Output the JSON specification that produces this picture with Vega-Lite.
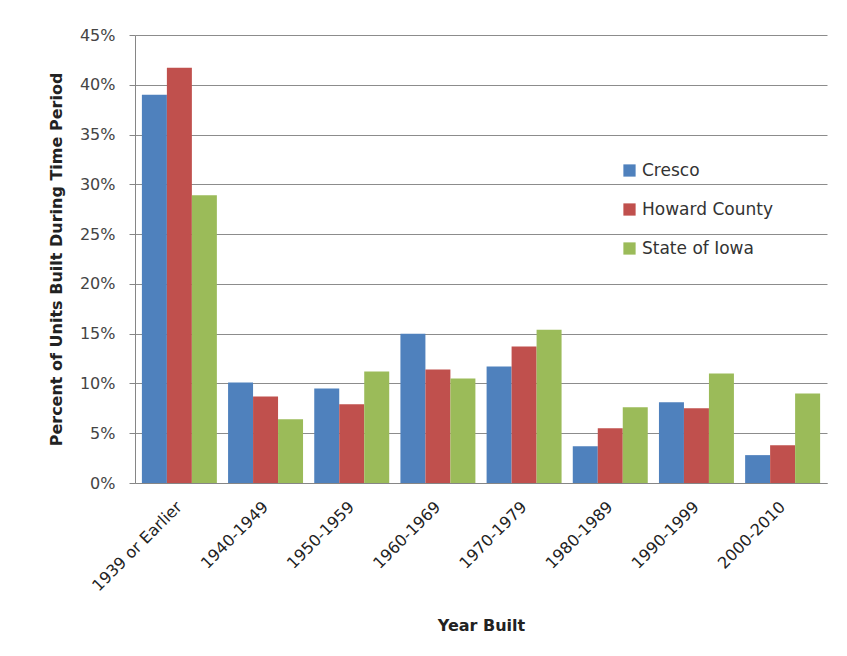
{
  "$schema": "https://vega.github.io/schema/vega-lite/v6.json",
  "autosize": "none",
  "width": 692,
  "height": 448,
  "padding": {"left": 135, "top": 35, "right": 20, "bottom": 173},
  "background": "white",
  "config": {
    "font": "DejaVu Sans",
    "view": {"stroke": null}
  },
  "data": {
    "values": [
      {"period": "1939 or Earlier", "area": "Cresco", "pct": 0.390},
      {"period": "1939 or Earlier", "area": "Howard County", "pct": 0.417},
      {"period": "1939 or Earlier", "area": "State of Iowa", "pct": 0.289},
      {"period": "1940-1949", "area": "Cresco", "pct": 0.101},
      {"period": "1940-1949", "area": "Howard County", "pct": 0.087},
      {"period": "1940-1949", "area": "State of Iowa", "pct": 0.064},
      {"period": "1950-1959", "area": "Cresco", "pct": 0.095},
      {"period": "1950-1959", "area": "Howard County", "pct": 0.079},
      {"period": "1950-1959", "area": "State of Iowa", "pct": 0.112},
      {"period": "1960-1969", "area": "Cresco", "pct": 0.150},
      {"period": "1960-1969", "area": "Howard County", "pct": 0.114},
      {"period": "1960-1969", "area": "State of Iowa", "pct": 0.105},
      {"period": "1970-1979", "area": "Cresco", "pct": 0.117},
      {"period": "1970-1979", "area": "Howard County", "pct": 0.137},
      {"period": "1970-1979", "area": "State of Iowa", "pct": 0.154},
      {"period": "1980-1989", "area": "Cresco", "pct": 0.037},
      {"period": "1980-1989", "area": "Howard County", "pct": 0.055},
      {"period": "1980-1989", "area": "State of Iowa", "pct": 0.076},
      {"period": "1990-1999", "area": "Cresco", "pct": 0.081},
      {"period": "1990-1999", "area": "Howard County", "pct": 0.075},
      {"period": "1990-1999", "area": "State of Iowa", "pct": 0.110},
      {"period": "2000-2010", "area": "Cresco", "pct": 0.028},
      {"period": "2000-2010", "area": "Howard County", "pct": 0.038},
      {"period": "2000-2010", "area": "State of Iowa", "pct": 0.090}
    ]
  },
  "mark": {"type": "bar"},
  "encoding": {
    "x": {
      "field": "period",
      "type": "nominal",
      "sort": null,
      "scale": {"paddingInner": 0.13, "paddingOuter": 0.08},
      "axis": {
        "title": "Year Built",
        "titleFontSize": 16,
        "titleFontWeight": "bold",
        "titleColor": "#222222",
        "titlePadding": 24,
        "labelAngle": -45,
        "labelAlign": "right",
        "labelBaseline": "middle",
        "labelFontSize": 16,
        "labelColor": "#222222",
        "labelPadding": 21,
        "labelDx": -4,
        "ticks": false,
        "domainColor": "#868686",
        "grid": false
      }
    },
    "xOffset": {"field": "area", "type": "nominal", "scale": {"paddingInner": 0, "paddingOuter": 0}},
    "y": {
      "field": "pct",
      "type": "quantitative",
      "scale": {"domain": [0, 0.45], "nice": false},
      "axis": {
        "title": "Percent of Units Built During Time Period",
        "titleFontSize": 16,
        "titleFontWeight": "bold",
        "titleColor": "#222222",
        "titlePadding": 15,
        "format": ".0%",
        "values": [0, 0.05, 0.1, 0.15, 0.2, 0.25, 0.3, 0.35, 0.4, 0.45],
        "labelFontSize": 16,
        "labelColor": "#444444",
        "labelPadding": 14,
        "tickSize": 6,
        "tickColor": "#868686",
        "domainColor": "#868686",
        "gridColor": "#8c8c8c",
        "gridWidth": 1
      }
    },
    "color": {
      "field": "area",
      "type": "nominal",
      "scale": {
        "domain": ["Cresco", "Howard County", "State of Iowa"],
        "range": ["#4F81BD", "#C0504D", "#9BBB59"]
      },
      "legend": {
        "title": null,
        "orient": "none",
        "legendX": 486,
        "legendY": 127,
        "symbolType": "square",
        "symbolSize": 150,
        "symbolStrokeWidth": 0,
        "labelFontSize": 17,
        "labelColor": "#333333",
        "labelOffset": 4,
        "rowPadding": 21
      }
    }
  }
}
